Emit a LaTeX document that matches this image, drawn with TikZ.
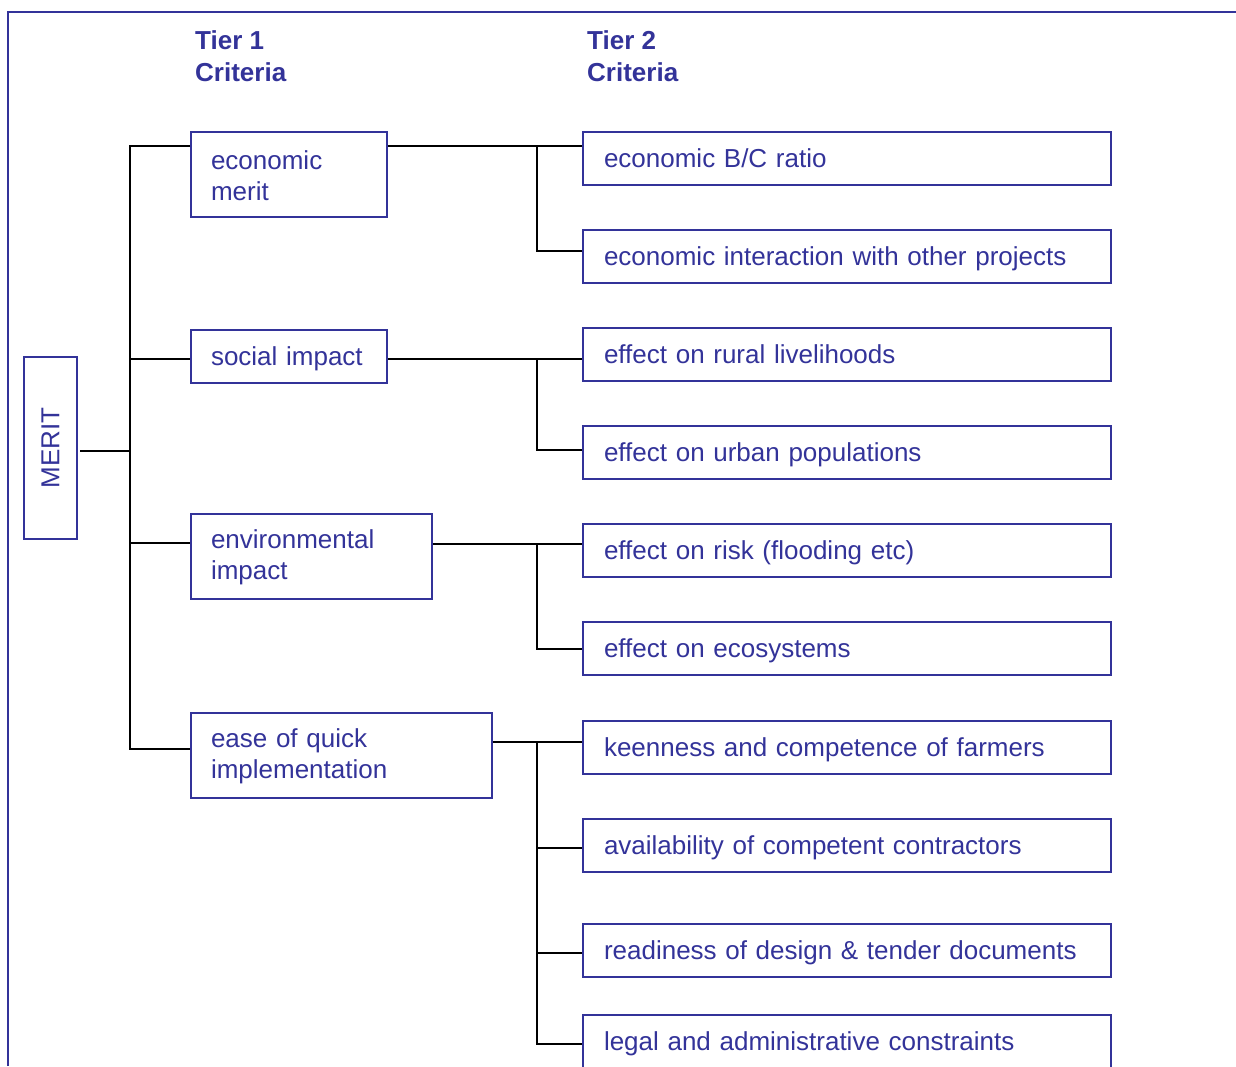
\documentclass[tikz,border=0pt]{standalone}
\usepackage{fontspec}
\setmainfont{Liberation Sans}
\definecolor{navy}{RGB}{51,51,153}
\begin{document}
\begin{tikzpicture}[x=1pt,y=-1pt,
  every node/.style={font=\fontsize{26}{31.5}\selectfont, text=navy},
  boxbase/.style={draw=navy, line width=2pt, anchor=north west, inner ysep=0pt, align=left},
  oneline/.style={text height=19pt, text depth=2pt},
  tone/.style={boxbase, inner xsep=20pt, text width=#1-40pt, minimum width=#1, minimum height=85pt},
  ttwo/.style={boxbase, oneline, inner xsep=21pt, text width=486pt, minimum width=528pt, minimum height=53pt},
  conn/.style={draw=black, line width=2pt},
  hdr/.style={anchor=west, font=\bfseries\fontsize{26}{31.5}\selectfont, inner sep=0pt}
]
\useasboundingbox (0,0) rectangle (1236,1066);
\clip (0,0) rectangle (1236,1066);
% frame
\draw[navy, line width=2pt] (8,1066) -- (8,12) -- (1236,12);
% headers
\node[hdr] (h1a) at (195,40) {Tier 1};
\node[hdr] (h1b) at (195,72) {Criteria};
\node[hdr] (h2a) at (587,40) {Tier 2};
\node[hdr] (h2b) at (587,72) {Criteria};
% root
\node[draw=navy, line width=2pt, minimum width=182pt, minimum height=53pt, rotate=90, inner sep=0pt] (merit) at (50.5,448) {MERIT};
% tier 1
\node[tone=196pt, yshift=-1pt, draw=none] (ecot) at (190,131) {economic\\merit};
\node[tone=196pt] (eco) at (190,131) {};
\node[tone=196pt, oneline, minimum height=53pt] (soc) at (190,329) {social impact};
\node[tone=241pt, yshift=-1pt, draw=none] (envt) at (190,513) {environmental\\impact};
\node[tone=241pt] (env) at (190,513) {};
\node[tone=301pt, yshift=-1pt, draw=none] (easet) at (190,712) {ease of quick\\implementation};
\node[tone=301pt] (ease) at (190,712) {};
% tier 2
\node[ttwo] (a1) at (582,131) {economic B/C ratio};
\node[ttwo] (a2) at (582,229) {economic interaction with other projects};
\node[ttwo] (b1) at (582,327) {effect on rural livelihoods};
\node[ttwo] (b2) at (582,425) {effect on urban populations};
\node[ttwo] (c1) at (582,523) {effect on risk (flooding etc)};
\node[ttwo] (c2) at (582,621) {effect on ecosystems};
\node[ttwo] (d1) at (582,720) {keenness and competence of farmers};
\node[ttwo] (d2) at (582,818) {availability of competent contractors};
\node[ttwo] (d3) at (582,923) {readiness of design \& tender documents};
\node[ttwo] (d4) at (582,1014) {legal and administrative constraints};
% junction coordinates
\coordinate (mroot) at (80,451);
\coordinate (tr) at (130,451);
\coordinate (ja) at (537,146);
\coordinate (jb) at (537,359);
\coordinate (jc) at (537,544);
\coordinate (jd) at (537,742);
% root to trunk
\draw[conn] (mroot) -- (tr);
\draw[conn] (eco.west |- ja) -- (130,146) -- (130,749) -- (ease.west |- 0,749);
\draw[conn] (130,359) -- (soc.west |- 0,359);
\draw[conn] (130,543) -- (env.west |- 0,543);
% tier1 to tier2
\draw[conn] (eco.east |- ja) -- (a1.west |- ja);
\draw[conn] (ja) |- (a2.west |- 0,251);
\draw[conn] (soc.east |- jb) -- (b1.west |- jb);
\draw[conn] (jb) |- (b2.west |- 0,450);
\draw[conn] (env.east |- jc) -- (c1.west |- jc);
\draw[conn] (jc) |- (c2.west |- 0,649);
\draw[conn] (ease.east |- jd) -- (d1.west |- jd);
\draw[conn] (jd) |- (d4.west |- 0,1044);
\draw[conn] (537,848) -- (d2.west |- 0,848);
\draw[conn] (537,953) -- (d3.west |- 0,953);
\end{tikzpicture}
\end{document}
